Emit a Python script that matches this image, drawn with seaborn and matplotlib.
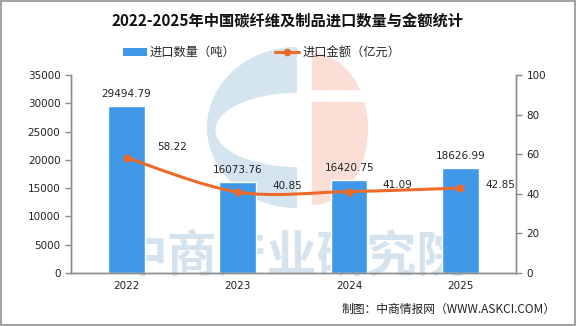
import matplotlib
matplotlib.use("Agg")
import matplotlib.pyplot as plt
import seaborn as sns
import pandas as pd
import numpy as np
from matplotlib.path import Path
from matplotlib.patches import PathPatch, Rectangle, Polygon, Patch
from matplotlib.lines import Line2D

years = ["2022", "2023", "2024", "2025"]
quantity = [29494.79, 16073.76, 16420.75, 18626.99]
amount = [58.22, 40.85, 41.09, 42.85]
left_ticks = [0, 5000, 10000, 15000, 20000, 25000, 30000, 35000]
right_ticks = [0, 20, 40, 60, 80, 100]

sns.set_theme(style="white")
plt.rcParams['font.family'] = ['Noto Sans CJK SC', 'DejaVu Sans']

bar_color = "#3F98E8"
line_color = "#EE6A2A"
axis_color = "#8C8C8C"

W, H = 576, 326
fig = plt.figure(figsize=(W / 100, H / 100), dpi=100)
fig.patch.set_facecolor("white")

# background layer (pixel coordinates) for watermark logo + text
bg = fig.add_axes([0, 0, 1, 1], zorder=0)
bg.set_xlim(0, W)
bg.set_ylim(H, 0)
bg.axis("off")


def half_ellipse(cx, cy, a, b, side):
    th = np.linspace(np.pi / 2, 3 * np.pi / 2, 80) if side == "left" else \
        np.linspace(-np.pi / 2, np.pi / 2, 80)
    return np.column_stack([cx + a * np.cos(th), cy + b * np.sin(th)])


bg.add_patch(Polygon(half_ellipse(297, 127.5, 90, 80.5, "left"), closed=True,
                     facecolor="#D5E5EF", edgecolor="none"))
bg.add_patch(Polygon(half_ellipse(297.5, 130, 82, 37, "left"), closed=True,
                     facecolor="white", edgecolor="none"))
bg.add_patch(Polygon(half_ellipse(312, 129, 56, 76, "right"), closed=True,
                     facecolor="#FBDFD6", edgecolor="none"))
bg.add_patch(Rectangle((311, 90), 60, 12, facecolor="white", edgecolor="none"))
wm = bg.text(292, 257, "中商产业研究院", fontsize=36, color="#D5E3EE", ha="center",
             va="center", fontweight="bold")
renderer = fig.canvas.get_renderer()
wbox = wm.get_window_extent(renderer=renderer)
wm.set_fontsize(36 * 349.0 / max(wbox.width, 1))
bg.add_patch(Rectangle((0.8, 0.8), W - 1.8, H - 1.8, fill=False,
                       edgecolor="#9A9A9A", linewidth=1.3))

ax = fig.add_axes([0.123, 0.163, 0.773, 0.607], zorder=1)
ax.set_facecolor("none")
df = pd.DataFrame({"year": years, "quantity": quantity, "amount": amount})

sns.barplot(data=df, x="year", y="quantity", color=bar_color, width=0.33,
            saturation=1, ax=ax, zorder=2)
ax.set_ylim(0, 35000)
ax.set_yticks(left_ticks)
ax.set_xlim(-0.5, 3.5)
ax.set_xticks([0.5, 1.5, 2.5], minor=True)
ax.set_xlabel("")
ax.set_ylabel("")
for i, v in enumerate(quantity):
    ax.annotate(f"{v:.2f}", (i, v), xytext=(0, 5), textcoords="offset points",
                ha="center", va="bottom", fontsize=7.5, color="#222222",
                family="DejaVu Sans")

ax2 = ax.twinx()
ax2.set_facecolor("none")
ax2.set_ylim(0, 100)
ax2.set_yticks(right_ticks)

# smooth curve via Catmull-Rom -> cubic bezier
xs = np.arange(len(amount), dtype=float)
ys = np.array(amount, dtype=float)
verts = [(xs[0], ys[0])]
codes = [Path.MOVETO]
t = 0.5
for i in range(len(xs) - 1):
    p0 = (xs[i - 1], ys[i - 1]) if i > 0 else (xs[i], ys[i])
    p1 = (xs[i], ys[i])
    p2 = (xs[i + 1], ys[i + 1])
    p3 = (xs[i + 2], ys[i + 2]) if i + 2 < len(xs) else (xs[i + 1], ys[i + 1])
    c1 = (p1[0] + (p2[0] - p0[0]) * t / 3, p1[1] + (p2[1] - p0[1]) * t / 3)
    c2 = (p2[0] - (p3[0] - p1[0]) * t / 3, p2[1] - (p3[1] - p1[1]) * t / 3)
    verts += [c1, c2, p2]
    codes += [Path.CURVE4] * 3
ax2.add_patch(PathPatch(Path(verts, codes), fill=False, edgecolor=line_color,
                        linewidth=2.2, zorder=3))
sns.scatterplot(x=xs, y=ys, color=line_color, s=28, edgecolor=line_color,
                ax=ax2, zorder=4, legend=False)
offsets = [(22, 8), (25, 4), (24, 5), (18, 2)]
for i, v in enumerate(amount):
    ax2.annotate(f"{v:.2f}", (i, v), xytext=offsets[i], textcoords="offset points",
                 ha="left", va="center", fontsize=7.5, color="#222222",
                 family="DejaVu Sans")

for a in (ax, ax2):
    for s in a.spines.values():
        s.set_color(axis_color)
        s.set_linewidth(1.0)
    a.spines["top"].set_visible(False)
    a.tick_params(axis="both", labelsize=7.5, colors="#222222", length=4,
                  color=axis_color, width=1, direction="out")
    a.grid(False)
ax.tick_params(axis="x", which="major", length=0, pad=6)
ax.tick_params(axis="x", which="minor", length=3, color=axis_color, width=1)
ax2.set_ylabel("")
for lbl in ax.get_xticklabels() + ax.get_yticklabels() + ax2.get_yticklabels():
    lbl.set_family("DejaVu Sans")

fig.text(0.5, 0.935, "2022-2025年中国碳纤维及制品进口数量与金额统计", ha="center",
         va="center", fontsize=11, fontweight="bold", color="#111111")

handles = [
    Patch(facecolor=bar_color, edgecolor="none"),
    Line2D([], [], color=line_color, linewidth=2.2, marker="o", markersize=4.5),
]
fig.legend(handles, ["进口数量（吨）", "进口金额（亿元）"], loc="center",
           bbox_to_anchor=(0.454, 0.838), ncol=2, frameon=False, fontsize=8.8,
           handlelength=2.0, handleheight=0.55, columnspacing=3.2,
           handletextpad=0.25)

fig.text(0.965, 0.052, "制图：中商情报网（WWW.ASKCI.COM）", ha="right", va="center",
         fontsize=8.5, color="#222222")

fig.savefig("out.png", dpi=100, facecolor="white")
